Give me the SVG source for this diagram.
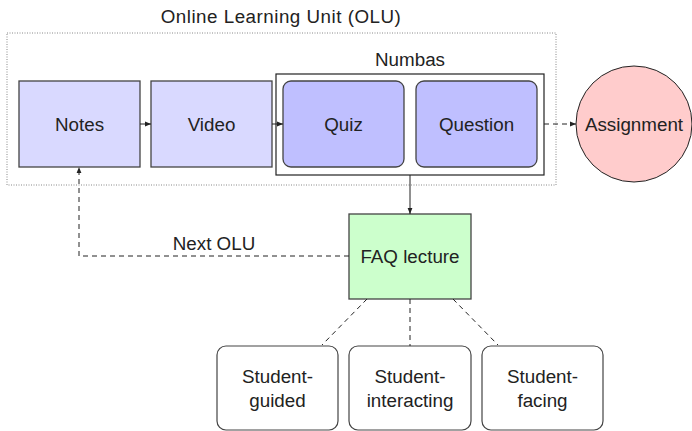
<svg xmlns="http://www.w3.org/2000/svg" width="692" height="431" viewBox="0 0 692 431">
  <style>
    text { font-family: "Liberation Sans", "DejaVu Sans", sans-serif; font-size: 18.8px; fill: #222; text-anchor: middle; }
    .box { stroke: #444; stroke-width: 1.3; }
    .light { fill: #d9d9ff; }
    .dark { fill: #bfbfff; }
    .conn { stroke: #222; stroke-width: 1; fill: none; }
    .dash { stroke-dasharray: 5 4; }
  </style>
  <defs>
    <marker id="arrow" viewBox="0 0 10 10" refX="10" refY="5" markerWidth="6" markerHeight="6" orient="auto" markerUnits="userSpaceOnUse">
      <path d="M0,1 L10,5 L0,9 Z" fill="#222"/>
    </marker>
  </defs>

  <!-- outer unit frame -->
  <g id="olu">
    <rect x="7" y="33" width="549" height="152" fill="none" stroke="#888" stroke-width="1" stroke-dasharray="1 1.5"/>
    <text x="281" y="23" style="letter-spacing:0.5px">Online Learning Unit (OLU)</text>
  </g>

  <g id="numbas">
    <rect x="276" y="74" width="268" height="101" fill="#fff" stroke="#222" stroke-width="1.2"/>
    <text x="410" y="66">Numbas</text>
  </g>

  <g id="notes">
    <rect class="box light" x="19" y="81" width="121" height="86"/>
    <text x="79.5" y="131">Notes</text>
  </g>

  <g id="video">
    <rect class="box light" x="151" y="81" width="121" height="86"/>
    <text x="211.5" y="131">Video</text>
  </g>

  <g id="quiz">
    <rect class="box dark" x="283" y="81" width="121" height="86" rx="8"/>
    <text x="343.5" y="131">Quiz</text>
  </g>

  <g id="question">
    <rect class="box dark" x="416" y="81" width="121" height="86" rx="8"/>
    <text x="476.5" y="131">Question</text>
  </g>

  <g id="assignment">
    <circle cx="634" cy="124" r="58" fill="#ffcccc" stroke="#222" stroke-width="1"/>
    <text x="634" y="131">Assignment</text>
  </g>

  <g id="faq">
    <rect x="349" y="214" width="122" height="85" fill="#ccffcc" stroke="#444" stroke-width="1.3"/>
    <text x="410" y="263">FAQ lecture</text>
  </g>

  <g id="student-guided">
    <rect x="217" y="346" width="121" height="84" rx="9" fill="#fff" stroke="#444" stroke-width="1.2"/>
    <text x="277.5" y="383">Student-</text>
    <text x="277.5" y="407">guided</text>
  </g>

  <g id="student-interacting">
    <rect x="349" y="346" width="122" height="84" rx="9" fill="#fff" stroke="#444" stroke-width="1.2"/>
    <text x="410" y="383">Student-</text>
    <text x="410" y="407">interacting</text>
  </g>

  <g id="student-facing">
    <rect x="482" y="346" width="121" height="84" rx="9" fill="#fff" stroke="#444" stroke-width="1.2"/>
    <text x="542.5" y="383">Student-</text>
    <text x="542.5" y="407">facing</text>
  </g>

  <g id="connectors">
    <line class="conn" x1="140" y1="124" x2="151" y2="124" marker-end="url(#arrow)"/>
    <line class="conn" x1="272" y1="124" x2="283" y2="124" marker-end="url(#arrow)"/>
    <line class="conn dash" x1="544" y1="124" x2="576" y2="124" marker-end="url(#arrow)"/>
    <line class="conn" x1="410" y1="175" x2="410" y2="214" marker-end="url(#arrow)"/>
    <polyline class="conn dash" points="349,256 79,256 79,167" marker-end="url(#arrow)"/>
    <text x="214" y="250">Next OLU</text>
    <line class="conn dash" x1="367" y1="299" x2="322" y2="345"/>
    <line class="conn dash" x1="410" y1="299" x2="410" y2="346"/>
    <line class="conn dash" x1="453" y1="299" x2="498" y2="345"/>
  </g>
</svg>
